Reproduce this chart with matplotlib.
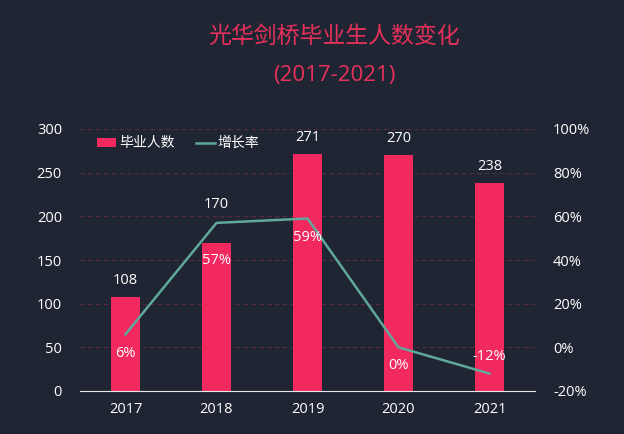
import matplotlib.pyplot as plt
import numpy as np

plt.rcParams['font.family'] = ['Open Sans', 'Noto Sans CJK SC', 'DejaVu Sans']

years = ['2017', '2018', '2019', '2020', '2021']
graduates = [108, 170, 271, 270, 238]
growth = [6, 57, 59, 0, -12]
growth_labels = ['6%', '57%', '59%', '0%', '-12%']

BG = '#1f2532'
BAR = '#f2295f'
LINE = '#5fa89b'
GRID = '#5a2a44'
TXT = '#ffffff'

fig = plt.figure(figsize=(6.24, 4.34), dpi=100)
fig.patch.set_facecolor(BG)
ax = fig.add_axes([80 / 624, 1 - 391 / 434, 455 / 624, 262 / 434])
ax.set_facecolor(BG)
ax2 = ax.twinx()

x = np.arange(len(years))
ax.bar(x, graduates, width=0.31, color=BAR, zorder=2, label='毕业人数')
# value label offsets above the bar top (pixels); 2018 pushed up past the line
bar_offsets = [16, 38, 17, 17, 17]
for xi, v, off in zip(x, graduates, bar_offsets):
    ax.annotate(str(v), (xi, v), xytext=(0, off), textcoords='offset pixels',
                ha='center', va='center', color=TXT, fontsize=10.5)

ax2.plot(x, growth, color=LINE, linewidth=1.8, zorder=3, label='增长率')
offsets = [-19, -38, -19, -18, 17]
for xi, v, lab, off in zip(x, growth, growth_labels, offsets):
    ax2.annotate(lab, (xi, v), xytext=(0, off), textcoords='offset pixels',
                 ha='center', va='center', color=TXT, fontsize=10.5)

ax.set_xlim(-0.5, len(years) - 0.5)
ax.set_ylim(0, 300)
ax.set_yticks(range(0, 301, 50))
ax2.set_ylim(-20, 100)
ax2.set_yticks(range(-20, 101, 20))
ax2.set_yticklabels([f'{t}%' for t in range(-20, 101, 20)])
ax.set_xticks(x)
ax.set_xticklabels(years)

ax.grid(axis='y', color=GRID, linestyle=(0, (4, 3)), linewidth=0.8, zorder=0)
ax.set_axisbelow(True)
for a in (ax, ax2):
    for s in a.spines.values():
        s.set_visible(False)
    a.tick_params(colors=TXT, labelsize=10.5, length=0)
ax.spines['bottom'].set_visible(True)
ax.spines['bottom'].set_color('#e8e8e8')
ax.tick_params(axis='x', pad=8)
ax.tick_params(axis='y', pad=13)
ax2.tick_params(axis='y', pad=13)
ax.set_zorder(ax2.get_zorder() - 1)
ax.patch.set_visible(True)
ax2.patch.set_visible(False)

h1, l1 = ax.get_legend_handles_labels()
h2, l2 = ax2.get_legend_handles_labels()
leg = ax2.legend(h1 + h2, l1 + l2, loc='upper left', bbox_to_anchor=(0.01, 1.02),
                 ncol=2, frameon=False, fontsize=10, labelcolor=TXT,
                 handlelength=1.4, handleheight=0.6, handletextpad=0.2, columnspacing=1.5)

fig.text(334 / 624, 1 - 37 / 434, '光华剑桥毕业生人数变化', ha='center', va='center',
         color='#e8305c', fontsize=16.5)
fig.text(334 / 624, 1 - 75 / 434, '(2017-2021)', ha='center', va='center',
         color='#e8305c', fontsize=16)

fig.savefig('out.png', dpi=100, facecolor=BG)
